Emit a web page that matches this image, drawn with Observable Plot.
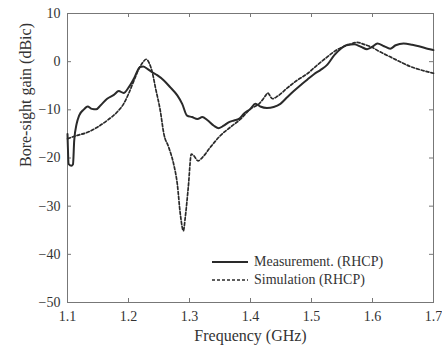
<!DOCTYPE html>
<html>
<head>
<meta charset="utf-8">
<script src="https://cdn.jsdelivr.net/npm/d3@7"></script>
<script src="https://cdn.jsdelivr.net/npm/@observablehq/plot@0.6"></script>
<style>
  html, body { margin: 0; padding: 0; background: #fff; }
  #wrap { position: relative; width: 442px; height: 351px; }
  #legend { position: absolute; left: 212px; top: 253px; font-size: 14px; color: #333; }
  #legend div { display: flex; align-items: center; height: 18px; }
  #legend svg { margin-right: 6px; }
</style>
</head>
<body>
<div id="wrap"></div>
<script>
const measFreq = [1.1,1.102,1.1065,1.109,1.111,1.115,1.119,1.127,1.133,1.14,1.147,1.154,1.165,1.176,1.184,1.192,1.2,1.209,1.219,1.224,1.231,1.239,1.247,1.258,1.269,1.28,1.288,1.296,1.304,1.313,1.321,1.329,1.34,1.348,1.356,1.364,1.373,1.381,1.389,1.4,1.408,1.416,1.427,1.438,1.449,1.46,1.471,1.482,1.493,1.504,1.515,1.526,1.537,1.548,1.559,1.57,1.581,1.591,1.6,1.608,1.619,1.629,1.638,1.651,1.665,1.676,1.69,1.7];
const measGain = [-15,-21.25,-21.6,-21.3,-16.4,-12.9,-11.2,-9.9,-9.3,-9.8,-9.9,-9.1,-7.7,-6.9,-6.1,-6.5,-5.4,-3.5,-1.1,-1.0,-1.5,-2.2,-2.8,-3.9,-5.4,-7,-8.75,-11.2,-11.5,-11.9,-11.5,-12.1,-13.3,-13.8,-13.3,-12.6,-12.2,-11.9,-10.8,-9.8,-8.75,-9.3,-9.6,-9.4,-8.75,-7.4,-6.1,-4.9,-3.75,-2.6,-1.7,-0.6,1.3,2.7,3.5,3.6,3.1,2.6,3.1,3.75,3.2,2.7,3.4,3.75,3.5,3.2,2.7,2.4];
const simFreq = [1.1,1.116,1.132,1.149,1.165,1.181,1.192,1.2,1.209,1.217,1.224,1.229,1.234,1.239,1.244,1.252,1.258,1.266,1.274,1.28,1.285,1.29,1.293,1.298,1.303,1.307,1.314,1.321,1.334,1.351,1.367,1.384,1.4,1.414,1.425,1.428,1.436,1.444,1.46,1.476,1.493,1.509,1.526,1.542,1.559,1.575,1.586,1.597,1.613,1.629,1.646,1.662,1.679,1.7];
const simGain = [-16,-15.3,-14.7,-13.6,-12.2,-10.5,-8.75,-6.7,-3.9,-1.5,-0.07,0.5,-0.3,-2.2,-5.3,-10.1,-15,-17.8,-21.25,-25.4,-31.7,-35.1,-32.4,-26.1,-19.2,-19.5,-20.6,-19.9,-17.8,-15.3,-13.6,-11.9,-9.8,-8.75,-7,-6.5,-7.7,-7.2,-5.5,-3.9,-2.5,-0.76,1.0,2.5,3.4,4.0,3.6,3.1,2.0,1.0,-0.07,-1.0,-1.7,-2.4];
const xTicks = [1.1,1.2,1.3,1.4,1.5,1.6,1.7];
const yTicks = [-50,-40,-30,-20,-10,0,10];
const seriesNames = ["Measurement. (RHCP)", "Simulation (RHCP)"];

const meas = measFreq.map((f, i) => ({f, g: measGain[i]}));
const sim = simFreq.map((f, i) => ({f, g: simGain[i]}));

const FONT = "Liberation Serif";
const W = 442, H = 351, mL = 67, mR = 9, mT = 13, mB = 49, tk = 4;
const fw = W - mL - mR, fh = H - mT - mB;
const ink = "#2a2a2a", axisInk = "#777";
const chart = Plot.plot({
  width: W,
  height: H,
  marginLeft: mL,
  marginRight: mR,
  marginTop: mT,
  marginBottom: mB,
  style: {fontFamily: FONT, fontSize: "14px", color: "#333", background: "#fff"},
  x: {domain: [1.1, 1.7]},
  y: {domain: [-50, 10]},
  marks: [
    Plot.frame({stroke: axisInk, strokeWidth: 1}),
    Plot.axisX(xTicks, {anchor: "bottom", tickSize: 0, tickPadding: 9, tickFormat: d => d.toFixed(1), label: null}),
    Plot.axisY(yTicks, {anchor: "left", tickSize: 0, tickPadding: 7, label: null}),
    Plot.tickX(xTicks, {x: d => d, insetTop: fh - tk, stroke: axisInk}),
    Plot.tickX(xTicks, {x: d => d, insetBottom: fh - tk, stroke: axisInk}),
    Plot.tickY(yTicks, {y: d => d, insetRight: fw - tk, stroke: axisInk}),
    Plot.tickY(yTicks, {y: d => d, insetLeft: fw - tk, stroke: axisInk}),
    Plot.text(["Frequency (GHz)"], {frameAnchor: "bottom", dy: 38, fontSize: 16, fill: "#333"}),
    Plot.text(["Bore-sight gain (dBic)"], {frameAnchor: "left", dx: -42, dy: 9, rotate: -90, fontSize: 16, fill: "#333"}),
    Plot.line(sim, {x: "f", y: "g", stroke: ink, strokeWidth: 1.7, strokeDasharray: "3,2", curve: "monotone-x"}),
    Plot.line(meas, {x: "f", y: "g", stroke: ink, strokeWidth: 2, curve: "monotone-x"})
  ]
});
chart.style.fontFamily = FONT;
d3.select(chart).selectAll("text, g").attr("font-family", FONT).style("font-family", FONT);
const wrap = document.getElementById("wrap");
wrap.appendChild(chart);

const legend = document.createElement("div");
legend.id = "legend";
legend.style.fontFamily = FONT;
const dashes = [null, "3,2"];
seriesNames.forEach((name, i) => {
  const row = document.createElement("div");
  row.innerHTML = `<svg width="36" height="6"><line x1="0" y1="3" x2="36" y2="3" stroke="${ink}" stroke-width="${i ? 1.7 : 2}" ${dashes[i] ? `stroke-dasharray="${dashes[i]}"` : ""}/></svg><span></span>`;
  row.querySelector("span").textContent = name;
  legend.appendChild(row);
});
wrap.appendChild(legend);
</script>
</body>
</html>
